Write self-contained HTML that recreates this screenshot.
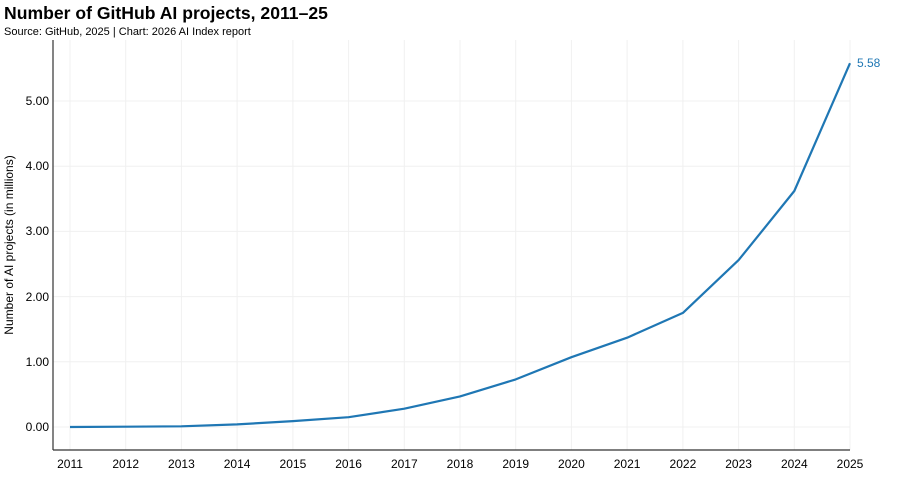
<!DOCTYPE html>
<html><head><meta charset="utf-8"><style>
body{margin:0;background:#fff;font-family:"Liberation Sans",sans-serif;}
</style></head><body>
<svg width="900" height="478" xmlns="http://www.w3.org/2000/svg" font-family="Liberation Sans, sans-serif">
<text x="4" y="19" font-size="17.6" font-weight="bold" fill="#000">Number of GitHub AI projects, 2011–25</text>
<text x="4" y="35" font-size="11" fill="#000">Source: GitHub, 2025 | Chart: 2026 AI Index report</text>
<g stroke="#f0f0f0" stroke-width="1">
<line x1="70" y1="40" x2="70" y2="450"/><line x1="125.7" y1="40" x2="125.7" y2="450"/><line x1="181.4" y1="40" x2="181.4" y2="450"/><line x1="237.1" y1="40" x2="237.1" y2="450"/><line x1="292.9" y1="40" x2="292.9" y2="450"/><line x1="348.6" y1="40" x2="348.6" y2="450"/><line x1="404.3" y1="40" x2="404.3" y2="450"/><line x1="460" y1="40" x2="460" y2="450"/><line x1="515.7" y1="40" x2="515.7" y2="450"/><line x1="571.4" y1="40" x2="571.4" y2="450"/><line x1="627.1" y1="40" x2="627.1" y2="450"/><line x1="682.9" y1="40" x2="682.9" y2="450"/><line x1="738.6" y1="40" x2="738.6" y2="450"/><line x1="794.3" y1="40" x2="794.3" y2="450"/><line x1="850" y1="40" x2="850" y2="450"/>
<line x1="53" y1="427" x2="850" y2="427"/><line x1="53" y1="361.8" x2="850" y2="361.8"/><line x1="53" y1="296.6" x2="850" y2="296.6"/><line x1="53" y1="231.4" x2="850" y2="231.4"/><line x1="53" y1="166.2" x2="850" y2="166.2"/><line x1="53" y1="101" x2="850" y2="101"/>
</g>
<line x1="53" y1="40" x2="53" y2="450" stroke="#333" stroke-width="1.2"/>
<line x1="53" y1="450" x2="850" y2="450" stroke="#333" stroke-width="1.2"/>
<g font-size="12" fill="#000" text-anchor="end">
<text x="49" y="431">0.00</text><text x="49" y="366">1.00</text><text x="49" y="301">2.00</text><text x="49" y="235">3.00</text><text x="49" y="170">4.00</text><text x="49" y="105">5.00</text>
</g>
<g font-size="12" fill="#000" text-anchor="middle">
<text x="70" y="468">2011</text><text x="125.7" y="468">2012</text><text x="181.4" y="468">2013</text><text x="237.1" y="468">2014</text><text x="292.9" y="468">2015</text><text x="348.6" y="468">2016</text><text x="404.3" y="468">2017</text><text x="460" y="468">2018</text><text x="515.7" y="468">2019</text><text x="571.4" y="468">2020</text><text x="627.1" y="468">2021</text><text x="682.9" y="468">2022</text><text x="738.6" y="468">2023</text><text x="794.3" y="468">2024</text><text x="850" y="468">2025</text>
</g>
<text transform="translate(13,245) rotate(-90)" font-size="12" text-anchor="middle" fill="#000">Number of AI projects (in millions)</text>
<polyline fill="none" stroke="#1f77b4" stroke-width="2.2" stroke-linejoin="round" points="70,427 125.7,426.7 181.4,426.3 237.1,424.4 292.9,421.1 348.6,417.2 404.3,408.7 460,396.4 515.7,379.4 571.4,357.2 627.1,337.7 682.9,312.9 738.6,260.1 794.3,191 850,63.2"/>
<text x="857" y="67" font-size="12" fill="#1f77b4">5.58</text>
</svg>
</body></html>
